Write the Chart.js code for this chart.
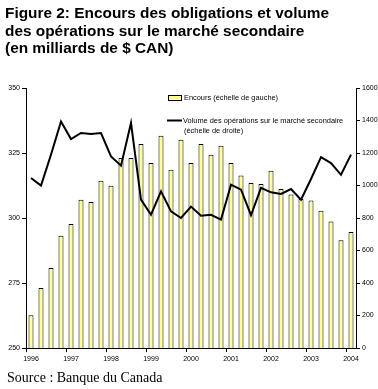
<!DOCTYPE html>
<html>
<head>
<meta charset="utf-8">
<script src="https://cdn.jsdelivr.net/npm/chart.js@4.4.0/dist/chart.umd.min.js"></script>
<style>
  html, body { margin: 0; padding: 0; background: #fff; }
  #wrap { position: relative; width: 378px; height: 389px; }
  #title { position: absolute; left: 5px; top: 4px; font: bold 15.4px "Liberation Sans", Arial, sans-serif; line-height: 17.5px; color: #000; white-space: nowrap; }
  #source { position: absolute; left: 7px; top: 370px; font: 14px "Liberation Serif", "Times New Roman", serif; color: #000; }
  canvas { position: absolute; left: 0; top: 0; }
</style>
</head>
<body>
<div id="wrap">
  <canvas id="chart" width="378" height="389"></canvas>
  <div id="title">Figure 2: Encours des obligations et volume<br>des opérations sur le marché secondaire<br>(en milliards de $ CAN)</div>
  <div id="source">Source : Banque du Canada</div>
</div>
<script>
'use strict';

// quarters, 1996 T1 .. 2004 T1
const quarters = [
  '1996 T1', '1996 T2', '1996 T3', '1996 T4',
  '1997 T1', '1997 T2', '1997 T3', '1997 T4',
  '1998 T1', '1998 T2', '1998 T3', '1998 T4',
  '1999 T1', '1999 T2', '1999 T3', '1999 T4',
  '2000 T1', '2000 T2', '2000 T3', '2000 T4',
  '2001 T1', '2001 T2', '2001 T3', '2001 T4',
  '2002 T1', '2002 T2', '2002 T3', '2002 T4',
  '2003 T1', '2003 T2', '2003 T3', '2003 T4',
  '2004 T1'
];

// Encours (échelle de gauche)
const encours = [
  262.6, 273.1, 280.8, 293.2, 297.7, 307.0, 306.2, 314.3,
  312.4, 323.1, 323.1, 328.5, 321.2, 331.6, 318.6, 330.1,
  321.2, 328.5, 324.3, 327.8, 321.2, 316.3, 313.5, 313.1,
  318.2, 311.2, 309.0, 307.3, 306.7, 302.8, 298.7, 291.4,
  294.6
];

// Volume des opérations (échelle de droite)
const volume = [
  1046, 999, 1190, 1394, 1286, 1323, 1317, 1323,
  1179, 1122, 1385, 913, 820, 964, 841, 800,
  870, 814, 820, 790, 1005, 974, 817, 985,
  958, 948, 978, 913, 1040, 1175, 1138, 1066,
  1190
];

const legendLabels = [
  'Encours (échelle de gauche)',
  'Volume des opérations sur le marché secondaire',
  '(échelle de droite)'
];

const BAR_FILL = '#ffff9c';
const TICK_FONT = { family: '"Liberation Sans", Arial, sans-serif', size: 7 };

// legend drawn inside the plot area
const insideLegend = {
  id: 'insideLegend',
  afterDraw(chart) {
    const ctx = chart.ctx;
    ctx.save();
    ctx.font = '7.4px "Liberation Sans", Arial, sans-serif';
    ctx.textBaseline = 'middle';
    // bar sample
    ctx.fillStyle = BAR_FILL;
    ctx.fillRect(168, 95, 13, 5);
    ctx.strokeStyle = '#000';
    ctx.lineWidth = 1;
    ctx.strokeRect(168.5, 95.5, 13, 5);
    ctx.fillStyle = '#000';
    ctx.fillText(legendLabels[0], 184, 98);
    // line sample
    ctx.lineWidth = 2;
    ctx.beginPath();
    ctx.moveTo(167, 120.5);
    ctx.lineTo(182, 120.5);
    ctx.stroke();
    ctx.fillText(legendLabels[1], 183, 120.5);
    ctx.fillText(legendLabels[2], 184, 131);
    ctx.restore();
  }
};

const yearTick = (ctx) => (ctx.index % 4 === 0 ? '#000' : 'rgba(0,0,0,0)');

new Chart(document.getElementById('chart'), {
  data: {
    labels: quarters,
    datasets: [
      {
        type: 'line',
        data: volume,
        yAxisID: 'y1',
        borderColor: '#000',
        borderWidth: 2,
        pointRadius: 0,
        tension: 0,
        order: 1
      },
      {
        type: 'bar',
        data: encours,
        yAxisID: 'y',
        backgroundColor: BAR_FILL,
        borderColor: '#000',
        borderWidth: 1,
        categoryPercentage: 1,
        barPercentage: 0.5,
        order: 2
      }
    ]
  },
  options: {
    responsive: false,
    animation: false,
    layout: { padding: { top: 88, bottom: 20, left: 0, right: 0 } },
    plugins: { legend: { display: false }, tooltip: { enabled: false } },
    scales: {
      x: {
        grid: { drawOnChartArea: false, drawTicks: true, tickLength: 4, color: yearTick, offset: true },
        border: { display: true, color: '#000', width: 1 },
        ticks: {
          color: '#000', font: TICK_FONT, autoSkip: false, maxRotation: 0, padding: 3,
          callback: (v, i) => (i % 4 === 0 ? quarters[i].slice(0, 4) : '')
        },
        afterFit: (s) => { s.height = 21; }
      },
      y: {
        position: 'left', min: 250, max: 350,
        grid: { drawOnChartArea: false, tickLength: 4, color: '#000' },
        border: { display: true, color: '#000', width: 1 },
        ticks: { stepSize: 25, color: '#000', font: TICK_FONT, padding: 2, callback: (v) => String(v) },
        afterFit: (s) => { s.width = 26; }
      },
      y1: {
        position: 'right', min: 0, max: 1600,
        grid: { drawOnChartArea: false, tickLength: 4, color: '#000' },
        border: { display: true, color: '#000', width: 1 },
        ticks: { stepSize: 200, color: '#000', font: TICK_FONT, padding: 2, callback: (v) => String(v) },
        afterFit: (s) => { s.width = 22; }
      }
    }
  },
  plugins: [insideLegend]
});
</script>
</body>
</html>
